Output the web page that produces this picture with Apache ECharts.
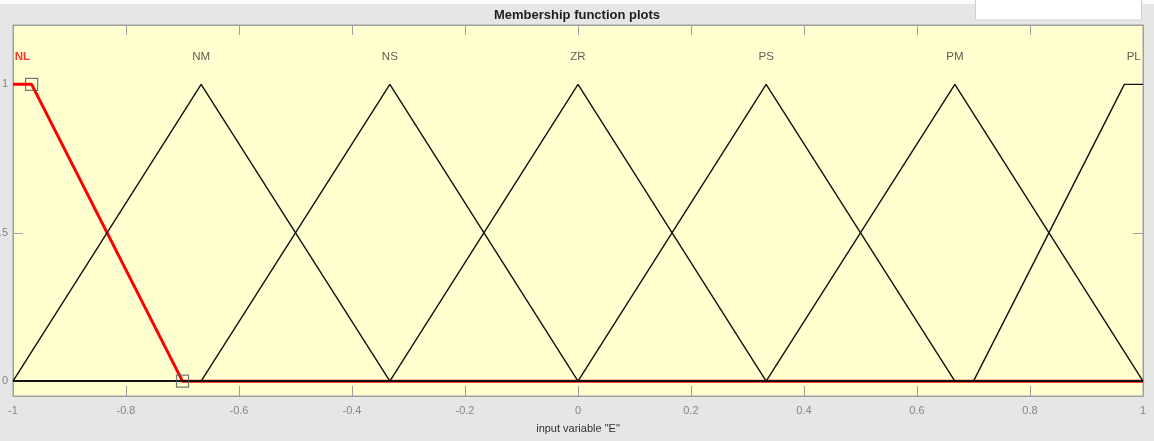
<!DOCTYPE html>
<html>
<head>
<meta charset="utf-8">
<title>Membership function plots</title>
<script src="https://cdn.jsdelivr.net/npm/echarts@6/dist/echarts.min.js"></script>
<style>
  html, body { margin: 0; padding: 0; background: #e6e6e6; }
  #chart { width: 1154px; height: 441px; }
</style>
</head>
<body>
<div id="chart"></div>
<script>
// Input variable "E" on [-1, 1]: seven membership functions.
const mfNames = ['NL', 'NM', 'NS', 'ZR', 'PS', 'PM', 'PL'];

// Break points (x) and membership degrees (y) of every function over the whole range.
const nlX = [-1, -0.967, -0.7, 1];            const nlY = [1, 1, 0, 0];
const nmX = [-1, -0.667, -0.333, 1];          const nmY = [0, 1, 0, 0];
const nsX = [-1, -0.667, -0.333, 0, 1];       const nsY = [0, 0, 1, 0, 0];
const zrX = [-1, -0.333, 0, 0.333, 1];        const zrY = [0, 0, 1, 0, 0];
const psX = [-1, 0, 0.333, 0.667, 1];         const psY = [0, 0, 1, 0, 0];
const pmX = [-1, 0.333, 0.667, 1];            const pmY = [0, 0, 1, 0];
const plX = [-1, 0.7, 0.967, 1];              const plY = [0, 0, 1, 1];

// Editable vertices of the selected function (NL).
const handleX = [-0.967, -0.7];
const handleY = [1, 0];

// Axis ticks.
const xTicks = [-1, -0.8, -0.6, -0.4, -0.2, 0, 0.2, 0.4, 0.6, 0.8, 1];
const yTicks = [0, 0.5, 1];

const mfX = [nlX, nmX, nsX, zrX, psX, pmX, plX];
const mfY = [nlY, nmY, nsY, zrY, psY, pmY, plY];
const selected = 0;

const pairs = (xs, ys) => xs.map((x, i) => [x, ys[i]]);

// Label each function above the centre of its plateau.
const labelData = mfNames.map((name, i) => {
  const top = mfX[i].filter((x, k) => mfY[i][k] === 1);
  const cx = (Math.min(...top) + Math.max(...top)) / 2;
  return {
    value: [cx, 1.092],
    name: name,
    label: i === selected
      ? { color: '#ff0000', fontWeight: 'bold' }
      : { color: '#333333', fontWeight: 'normal' }
  };
});

const series = [];
// Selected function in thick red, drawn underneath the others.
series.push({
  type: 'line',
  data: pairs(mfX[selected], mfY[selected]),
  symbol: 'none',
  lineStyle: { color: '#ff0000', width: 3 },
  z: 2,
  animation: false
});
mfNames.forEach((name, i) => {
  if (i === selected) return;
  series.push({
    type: 'line',
    name: name,
    data: pairs(mfX[i], mfY[i]),
    symbol: 'none',
    lineStyle: { color: '#111111', width: 1.4 },
    z: 3,
    animation: false
  });
});
series.push({
  type: 'scatter',
  data: pairs(handleX, handleY),
  symbol: 'rect',
  symbolSize: 12,
  itemStyle: { color: 'rgba(0,0,0,0)', borderColor: '#555555', borderWidth: 1.2 },
  z: 4,
  silent: true,
  animation: false
});
series.push({
  type: 'scatter',
  data: labelData,
  symbolSize: 0,
  label: {
    show: true,
    position: 'inside',
    formatter: p => p.name,
    fontFamily: 'Liberation Sans, Arial, sans-serif',
    fontSize: 11.5
  },
  z: 5,
  silent: true,
  animation: false
});

const axisGray = '#a0a0a0';
const tickStyle = { show: true, inside: true, length: 10, lineStyle: { color: axisGray, width: 1 } };
const lineStyle = { show: true, onZero: false, lineStyle: { color: axisGray } };

const chart = echarts.init(document.getElementById('chart'), null, { renderer: 'canvas' });
chart.setOption({
  backgroundColor: '#e6e6e6',
  animation: false,
  textStyle: { fontFamily: 'Liberation Sans, Arial, sans-serif' },
  title: {
    text: 'Membership function plots',
    left: 'center',
    top: 9,
    padding: 0,
    textStyle: { fontSize: 13, fontWeight: 'bold', color: '#1e1e1e', fontFamily: 'Liberation Sans, Arial, sans-serif' }
  },
  graphic: [
    { type: 'rect', shape: { x: 0, y: 0, width: 1154, height: 4 }, style: { fill: '#fafafa' }, silent: true, z: -1 },
    { type: 'rect', shape: { x: 975.5, y: -1, width: 166, height: 21 }, style: { fill: '#ffffff', stroke: '#cfcfcf', lineWidth: 1 }, silent: true }
  ],
  grid: {
    left: 13, right: 11, top: 25, bottom: 45,
    containLabel: false,
    outerBoundsMode: 'none',
    show: true,
    backgroundColor: '#ffffd0',
    borderColor: axisGray,
    borderWidth: 1
  },
  xAxis: [
    {
      type: 'value', position: 'bottom', min: -1, max: 1, interval: 0.2,
      axisLine: lineStyle,
      axisTick: tickStyle,
      splitLine: { show: false },
      axisLabel: {
        color: '#858585', fontSize: 11, margin: 9,
        formatter: v => {
          const t = xTicks.find(x => Math.abs(x - v) < 1e-9);
          return t === undefined ? '' : String(t);
        }
      },
      name: 'input variable "E"',
      nameLocation: 'middle',
      nameGap: 27,
      nameTextStyle: { color: '#333333', fontSize: 11 }
    },
    {
      type: 'value', position: 'top', min: -1, max: 1, interval: 0.2,
      axisLine: lineStyle,
      axisTick: tickStyle,
      splitLine: { show: false },
      axisLabel: { show: false }
    }
  ],
  yAxis: [
    {
      type: 'value', position: 'left', min: -0.05, max: 1.2,
      axisLine: lineStyle,
      axisTick: Object.assign({}, tickStyle, { customValues: yTicks }),
      splitLine: { show: false },
      axisLabel: { color: '#858585', fontSize: 11, margin: 5, customValues: yTicks }
    },
    {
      type: 'value', position: 'right', min: -0.05, max: 1.2,
      axisLine: lineStyle,
      axisTick: Object.assign({}, tickStyle, { customValues: yTicks }),
      splitLine: { show: false },
      axisLabel: { show: false }
    }
  ],
  series: series
});
</script>
</body>
</html>
